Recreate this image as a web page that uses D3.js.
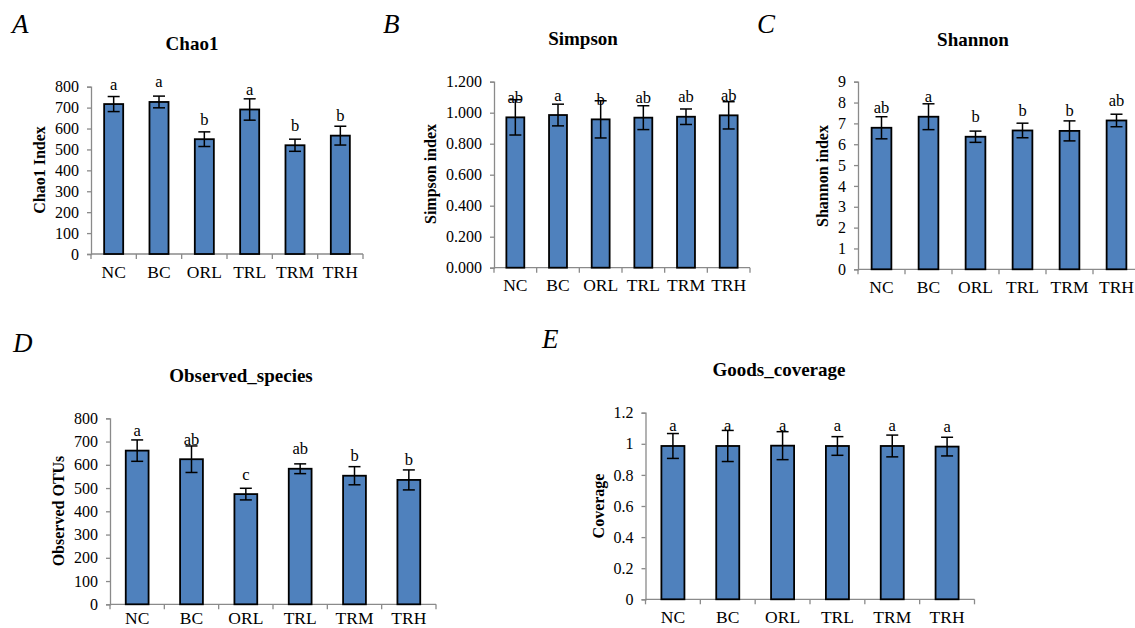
<!DOCTYPE html>
<html><head><meta charset="utf-8">
<script src="https://cdn.jsdelivr.net/npm/d3@7"></script>
<style>body{margin:0;background:#fff}svg{display:block}text{font-family:"Liberation Serif","Times New Roman",serif;fill:#000}</style>
</head><body>
<svg id="c" width="1135" height="628"></svg>
<script>
const categories = ["NC","BC","ORL","TRL","TRM","TRH"];

const chao1Mean = [717, 727, 549, 691, 520, 566];
const chao1Err = [36, 28, 35, 51, 29, 45];
const chao1Letters = ["a","a","b","a","b","b"];
const chao1Ticks = [0,100,200,300,400,500,600,700,800];

const simpsonMean = [0.970, 0.985, 0.957, 0.968, 0.974, 0.983];
const simpsonErr = [0.114, 0.070, 0.120, 0.077, 0.050, 0.088];
const simpsonLetters = ["ab","a","b","ab","ab","ab"];
const simpsonTicks = [0,0.2,0.4,0.6,0.8,1.0,1.2];

const shannonMean = [6.79, 7.32, 6.36, 6.66, 6.64, 7.14];
const shannonErr = [0.53, 0.62, 0.27, 0.35, 0.48, 0.30];
const shannonLetters = ["ab","a","b","b","b","ab"];
const shannonTicks = [0,1,2,3,4,5,6,7,8,9];

const observedMean = [661, 624, 474, 583, 553, 535];
const observedErr = [46, 57, 25, 21, 39, 43];
const observedLetters = ["a","ab","c","ab","b","b"];
const observedTicks = [0,100,200,300,400,500,600,700,800];

const coverageMean = [0.986, 0.986, 0.988, 0.986, 0.986, 0.982];
const coverageErr = [0.080, 0.100, 0.090, 0.060, 0.070, 0.060];
const coverageLetters = ["a","a","a","a","a","a"];
const coverageTicks = [0,0.2,0.4,0.6,0.8,1,1.2];

const svg = d3.select("#c");

function panel(o){
  const g = svg.append("g");
  const x = d3.scaleBand().domain(categories).range([o.x0, o.x1]).paddingInner(0.58).paddingOuter(0.29);
  const y = d3.scaleLinear().domain([0, o.max]).range([o.yb, o.yt]);
  g.append("text").attr("x", o.lx).attr("y", o.ly).attr("font-size", 27).attr("font-style","italic").text(o.letter);
  g.append("text").attr("x", o.tx).attr("y", o.ty).attr("text-anchor","middle").attr("font-size",19).attr("font-weight","bold").text(o.title);
  g.append("text").attr("transform", `translate(${o.ax},${o.ay}) rotate(-90)`).attr("text-anchor","middle")
    .attr("dominant-baseline","central").attr("font-size",16).attr("font-weight","bold").text(o.ylab);
  const ya = g.append("g").attr("transform", `translate(${o.x0},0)`)
    .call(d3.axisLeft(y).tickValues(o.ticks).tickFormat(o.fmt).tickSize(4).tickPadding(8));
  const xa = g.append("g").attr("transform", `translate(0,${o.yb})`)
    .call(d3.axisBottom(x).tickSize(0));
  [ya, xa].forEach(a => {
    a.select(".domain").attr("stroke","#8a8a8a").attr("stroke-width",1.3);
    a.selectAll(".tick line").attr("stroke","#8a8a8a").attr("stroke-width",1.3);
    a.selectAll("text").attr("font-family","Liberation Serif").attr("fill","#000");
  });
  ya.selectAll("text").attr("font-size",16);
  xa.selectAll("text").attr("font-size",17.5).attr("y",o.lbl || 23.5).attr("dy",0);
  xa.select(".domain").attr("d", `M${o.x0},0H${o.x1}`);
  const bounds = d3.range(categories.length + 1).map(i => o.x0 + i * (o.x1 - o.x0) / categories.length);
  g.selectAll(".bt").data(bounds).enter().append("line")
    .attr("x1", d => d).attr("x2", d => d).attr("y1", o.yb).attr("y2", o.yb + 5)
    .attr("stroke","#8a8a8a").attr("stroke-width",1.3);
  const data = categories.map((c,i) => ({c, v:o.mean[i], e:o.err[i], l:o.letters[i]}));
  g.selectAll(".bar").data(data).enter().append("rect")
    .attr("x", d => x(d.c)).attr("width", x.bandwidth())
    .attr("y", d => y(d.v)).attr("height", d => y(0) - y(d.v))
    .attr("fill","#4f81bd").attr("stroke","#000").attr("stroke-width",1.8);
  const cap = 6;
  const cx = d => x(d.c) + x.bandwidth()/2;
  const eg = g.selectAll(".err").data(data).enter().append("g").attr("stroke","#000").attr("stroke-width",1.5);
  eg.append("line").attr("x1", cx).attr("x2", cx).attr("y1", d => y(d.v + d.e)).attr("y2", d => y(d.v - d.e));
  eg.append("line").attr("x1", d => cx(d) - cap).attr("x2", d => cx(d) + cap).attr("y1", d => y(d.v + d.e)).attr("y2", d => y(d.v + d.e));
  eg.append("line").attr("x1", d => cx(d) - cap).attr("x2", d => cx(d) + cap).attr("y1", d => y(d.v - d.e)).attr("y2", d => y(d.v - d.e));
  g.selectAll(".lt").data(data).enter().append("text")
    .attr("x", cx).attr("y", d => y(d.v) - 14.5)
    .attr("text-anchor","middle").attr("font-size",16.5).text(d => d.l);
}

panel({letter:"A", lx:12, ly:33, title:"Chao1", tx:192, ty:50, ylab:"Chao1 Index", ax:39, ay:170,
  x0:91, x1:363, yt:86.7, yb:254, max:800, ticks:chao1Ticks, fmt:d3.format("d"),
  mean:chao1Mean, err:chao1Err, letters:chao1Letters});
panel({letter:"B", lx:383, ly:33, title:"Simpson", tx:583, ty:45, ylab:"Simpson index", ax:430, ay:174,
  x0:494, x1:750, yt:81.7, yb:267.7, max:1.2, ticks:simpsonTicks, fmt:d3.format(".3f"),
  mean:simpsonMean, err:simpsonErr, letters:simpsonLetters});
panel({letter:"C", lx:757, ly:33, title:"Shannon", tx:973, ty:46, ylab:"Shannon index", ax:822, ay:176,
  x0:858, x1:1140, yt:81.7, yb:269.3, max:9, ticks:shannonTicks, fmt:d3.format("d"),
  mean:shannonMean, err:shannonErr, letters:shannonLetters});
panel({letter:"D", lx:13, ly:352, title:"Observed_species", tx:241, ty:382, ylab:"Observed OTUs", ax:58, ay:511,
  x0:110, x1:436, yt:418.3, yb:604.3, max:800, ticks:observedTicks, fmt:d3.format("d"), lbl:19.5,
  mean:observedMean, err:observedErr, letters:observedLetters});
panel({letter:"E", lx:542, ly:348, title:"Goods_coverage", tx:779, ty:376, ylab:"Coverage", ax:598, ay:506,
  x0:645.5, x1:974.5, yt:412.7, yb:599.3, max:1.2, ticks:coverageTicks, fmt:d => String(+d.toFixed(1)),
  mean:coverageMean, err:coverageErr, letters:coverageLetters});
</script>
</body></html>
